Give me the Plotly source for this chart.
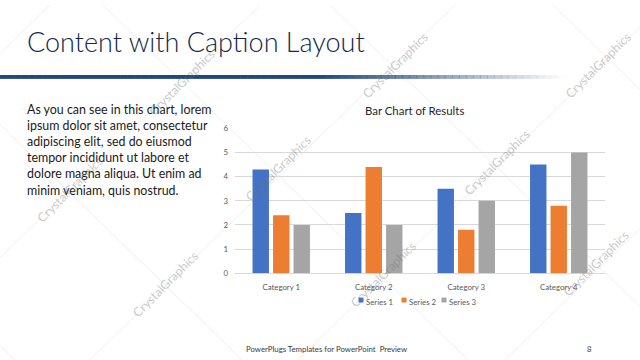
import plotly.graph_objects as go

# ---------------- data ----------------
categories = ["Category 1", "Category 2", "Category 3", "Category 4"]
series_names = ["Series 1", "Series 2", "Series 3"]
series1 = [4.3, 2.5, 3.5, 4.5]
series2 = [2.4, 4.4, 1.8, 2.8]
series3 = [2.0, 2.0, 3.0, 5.0]
series_values = [series1, series2, series3]
y_ticks = [0, 1, 2, 3, 4, 5, 6]

slide_title = "Content with Caption Layout"
chart_title = "Bar Chart of Results"
caption_lines = [
    "As you can see in this chart, lorem",
    "ipsum dolor sit amet, consectetur",
    "adipiscing elit, sed do eiusmod",
    "tempor incididunt ut labore et",
    "dolore magna aliqua. Ut enim ad",
    "minim veniam, quis nostrud.",
]
footer_text = "PowerPlugs Templates for PowerPoint  Preview"
page_number = "8"
watermark = "CrystalGraphics"

# ---------------- style ----------------
W, H = 640, 360
FONT = "Lato"
colors = ["#4472C4", "#ED7D31", "#A5A5A5"]
title_color = "#14284a"
line_color = (31, 73, 125)


def px(x):
    return x / W


def py(y):
    return 1 - y / H


fig = go.Figure()
for name, vals, col in zip(series_names, series_values, colors):
    fig.add_trace(go.Bar(x=categories, y=vals, name=name, marker_color=col,
                         marker_line_width=0, showlegend=False))

shapes = []
annotations = []

# faint diagonal watermark lines
for c in [50, 260, 455, 663, 870, 1075]:
    shapes.append(dict(type="line", xref="paper", yref="paper",
                       x0=px(c), y0=py(0), x1=px(c - 400), y1=py(400),
                       line=dict(color="rgba(0,0,0,0.07)", width=1), layer="below"))
for d in [-350, -123, 103, 330, 553]:
    shapes.append(dict(type="line", xref="paper", yref="paper",
                       x0=px(d), y0=py(0), x1=px(d + 400), y1=py(400),
                       line=dict(color="rgba(0,0,0,0.07)", width=1), layer="below"))

# gradient rule under title
n = 80
x_end = 565
for i in range(n):
    xa = x_end * i / n
    xb = x_end * (i + 1) / n + 0.5
    xm = (xa + xb) / 2
    a = 1.0 if xm < 320 else max(0.0, 1 - (xm - 320) / (x_end - 320))
    r, g, b = line_color
    shapes.append(dict(type="rect", xref="paper", yref="paper",
                       x0=px(xa), x1=px(min(xb, x_end)), y0=py(76), y1=py(72),
                       fillcolor=f"rgba({r},{g},{b},{a:.3f})", line=dict(width=0),
                       layer="below"))

# slide title
annotations.append(dict(text=slide_title, x=px(25), y=py(38), xref="paper", yref="paper",
                        xanchor="left", yanchor="middle", showarrow=False,
                        font=dict(family=FONT, size=27, color=title_color, weight=300)))

# caption
annotations.append(dict(text="<br>".join(caption_lines), x=px(25), y=py(149),
                        xref="paper", yref="paper", xanchor="left", yanchor="middle",
                        align="left", showarrow=False,
                        font=dict(family=FONT, size=12.4, color="#1a1a1a")))

# chart title
annotations.append(dict(text=chart_title, x=px(414), y=py(109), xref="paper", yref="paper",
                        xanchor="center", yanchor="middle", showarrow=False,
                        font=dict(family=FONT, size=11.4, color="#262626")))

# manual legend
leg_sq = [361, 404, 444]
for name, col, xs in zip(series_names, colors, leg_sq):
    shapes.append(dict(type="rect", xref="paper", yref="paper",
                       x0=px(xs - 2.5), x1=px(xs + 2.5), y0=py(306), y1=py(301),
                       fillcolor=col, line=dict(width=0)))
    annotations.append(dict(text=name, x=px(xs + 3), y=py(305.5), xref="paper", yref="paper",
                            xanchor="left", yanchor="middle", showarrow=False,
                            font=dict(family=FONT, size=7.8, color="#595959")))

# footer
annotations.append(dict(text=footer_text, x=px(244), y=py(354), xref="paper", yref="paper",
                        xanchor="left", yanchor="middle", showarrow=False,
                        font=dict(family=FONT, size=7.8, color="#3a3a3a")))
annotations.append(dict(text=page_number, x=px(589), y=py(354), xref="paper", yref="paper",
                        xanchor="center", yanchor="middle", showarrow=False,
                        font=dict(family=FONT, size=7.8, color="#3a3a3a")))

# watermarks
for (cx, cy) in [(182, 80), (395, 62), (598, 62), (70, 190), (278, 168), (497, 162),
                 (165, 287), (383, 277), (596, 266)]:
    annotations.append(dict(text=watermark, x=px(cx), y=py(cy), xref="paper", yref="paper",
                            xanchor="center", yanchor="middle", showarrow=False,
                            textangle=-45,
                            font=dict(family=FONT, size=12.5, color="rgba(120,120,120,0.4)")))

fig.update_layout(
    width=W, height=H,
    margin=dict(l=0, r=0, t=0, b=0),
    paper_bgcolor="white", plot_bgcolor="rgba(0,0,0,0)",
    barmode="group", bargap=0.335, bargroupgap=0.2,
    showlegend=False,
    shapes=shapes, annotations=annotations,
    font=dict(family=FONT, color="#595959"),
    xaxis=dict(domain=[px(235), px(605)], range=[-0.5, 3.5], showgrid=False,
               showline=False, zeroline=False, ticks="", ticklabelstandoff=8,
               tickfont=dict(family=FONT, size=7.8, color="#595959")),
    yaxis=dict(domain=[py(276), py(126.8)], range=[0, 6], tickvals=y_ticks,
               showgrid=True, gridcolor="#d9d9d9", gridwidth=1,
               zeroline=True, zerolinecolor="#d9d9d9", zerolinewidth=1,
               showline=False, ticks="", ticklabelstandoff=6,
               tickfont=dict(family=FONT, size=7.8, color="#595959")),
)

fig.write_html("out.html")
